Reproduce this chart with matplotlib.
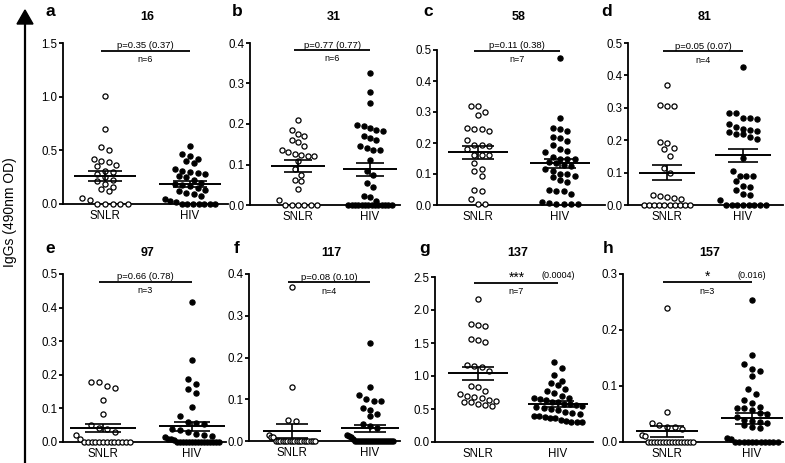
import numpy as np
import matplotlib
matplotlib.use("Agg")
import matplotlib.pyplot as plt
from matplotlib.patches import Polygon
from matplotlib.lines import Line2D

plt.rcParams['font.family'] = ['Liberation Sans', 'DejaVu Sans']

# panel info
letters = ['a', 'b', 'c', 'd', 'e', 'f', 'g', 'h']
titles = ['16', '31', '58', '81', '97', '117', '137', '157']
ymax = [1.5, 0.4, 0.5, 0.5, 0.5, 0.4, 2.5, 0.3]
ystep = [0.5, 0.1, 0.1, 0.1, 0.1, 0.1, 0.5, 0.1]
groups = ['SNLR', 'HIV']

snlr = [
    [1.01, 0.70, 0.53, 0.50, 0.42, 0.40, 0.39, 0.36, 0.35, 0.31, 0.30, 0.28, 0.25,
     0.22, 0.21, 0.19, 0.16, 0.14, 0.12, 0.06, 0.04, 0, 0, 0, 0, 0],
    [0.21, 0.185, 0.175, 0.17, 0.16, 0.155, 0.145, 0.135, 0.13, 0.125, 0.123, 0.12,
     0.12, 0.108, 0.09, 0.075, 0.062, 0.06, 0.04, 0.012, 0, 0, 0, 0, 0, 0],
    [0.32, 0.32, 0.30, 0.29, 0.25, 0.245, 0.24, 0.245, 0.21, 0.195, 0.195, 0.19, 0.18,
     0.16, 0.16, 0.16, 0.135, 0.115, 0.11, 0.095, 0.05, 0.045, 0.02, 0.003, 0.003],
    [0.37, 0.31, 0.305, 0.305, 0.195, 0.19, 0.175, 0.172, 0.15, 0.115, 0.10, 0.03,
     0.028, 0.022, 0.02, 0.025, 0, 0, 0, 0, 0, 0, 0, 0, 0, 0],
    [0.18, 0.178, 0.168, 0.16, 0.125, 0.082, 0.052, 0.042, 0.038, 0.03, 0.02, 0.008,
     0, 0, 0, 0, 0, 0, 0, 0, 0, 0, 0, 0, 0],
    [0.37, 0.13, 0.05, 0.048, 0.014, 0.01, 0.01] + [0] * 18,
    [2.16, 1.78, 1.76, 1.79, 1.56, 1.52, 1.55, 1.17, 1.15, 1.14, 1.08, 0.85, 0.83,
     0.77, 0.73, 0.70, 0.68, 0.66, 0.64, 0.60, 0.60, 0.58, 0.56, 0.55, 0.62],
    [0.24, 0.054, 0.034, 0.03, 0.026, 0.026, 0.024, 0.012, 0.01] + [0] * 16,
]
hiv = [
    [0.54, 0.47, 0.45, 0.42, 0.40, 0.38, 0.33, 0.31, 0.30, 0.29, 0.28, 0.26, 0.25,
     0.22, 0.20, 0.19, 0.18, 0.17, 0.15, 0.13, 0.12, 0.10, 0.09, 0.07, 0.05, 0.03,
     0.02, 0, 0, 0, 0, 0, 0, 0],
    [0.325, 0.28, 0.253, 0.198, 0.196, 0.19, 0.185, 0.182, 0.17, 0.165, 0.16, 0.145,
     0.14, 0.137, 0.135, 0.11, 0.085, 0.075, 0.055, 0.045, 0.022, 0.02, 0.01] + [0] * 14,
    [0.475, 0.28, 0.25, 0.245, 0.24, 0.22, 0.215, 0.205, 0.195, 0.18, 0.175, 0.17,
     0.155, 0.15, 0.15, 0.148, 0.14, 0.135, 0.13, 0.125, 0.115, 0.11, 0.10, 0.10,
     0.095, 0.09, 0.08, 0.075, 0.05, 0.045, 0.045, 0.035, 0.01, 0.005, 0.003, 0.002,
     0.003, 0.002],
    [0.425, 0.285, 0.283, 0.27, 0.27, 0.265, 0.25, 0.24, 0.235, 0.232, 0.228, 0.225,
     0.22, 0.22, 0.21, 0.205, 0.145, 0.105, 0.09, 0.088, 0.088, 0.075, 0.06, 0.055,
     0.045, 0.035, 0.03, 0.015] + [0] * 8,
    [0.418, 0.243, 0.188, 0.172, 0.157, 0.145, 0.105, 0.077, 0.06, 0.057, 0.055, 0.04,
     0.035, 0.03, 0.025, 0.02, 0.018, 0.015, 0.01, 0.008, 0.005] + [0] * 15,
    [0.235, 0.13, 0.11, 0.1, 0.095, 0.095, 0.078, 0.075, 0.065, 0.06, 0.04, 0.035,
     0.03, 0.015, 0.012, 0.01, 0.005] + [0] * 20,
    [1.21, 1.12, 1.02, 0.92, 0.90, 0.86, 0.81, 0.78, 0.74, 0.70, 0.67, 0.66, 0.65,
     0.63, 0.61, 0.60, 0.58, 0.57, 0.56, 0.55, 0.53, 0.52, 0.50, 0.48, 0.45, 0.44,
     0.42, 0.40, 0.39, 0.38, 0.36, 0.36, 0.33, 0.32, 0.31, 0.30, 0.30],
    [0.253, 0.155, 0.14, 0.13, 0.127, 0.118, 0.095, 0.085, 0.075, 0.07, 0.062, 0.06,
     0.06, 0.058, 0.052, 0.05, 0.045, 0.04, 0.038, 0.035, 0.034, 0.03, 0.027, 0.025,
     0.008, 0.005] + [0] * 11,
]

# mean and SEM
snlr_mean = [0.26, 0.096, 0.17, 0.10, 0.042, 0.024, 1.04, 0.019]
snlr_sem = [0.05, 0.014, 0.02, 0.024, 0.013, 0.016, 0.10, 0.01]
hiv_mean = [0.185, 0.088, 0.135, 0.154, 0.047, 0.03, 0.576, 0.042]
hiv_sem = [0.03, 0.016, 0.015, 0.02, 0.014, 0.009, 0.045, 0.009]

sig_y = [1.43, 0.382, 0.498, 0.474, 0.477, 0.38, 2.41, 0.285]
p_text = ['p=0.35 (0.37)', 'p=0.77 (0.77)', 'p=0.11 (0.38)', 'p=0.05 (0.07)',
          'p=0.66 (0.78)', 'p=0.08 (0.10)', '***', '*']
p_extra = ['', '', '', '', '', '', '(0.0004)', '(0.016)']
n_text = ['n=6', 'n=6', 'n=7', 'n=4', 'n=3', 'n=4', 'n=7', 'n=3']

# layout in pixels: spine x, right x, y of 0, y of top, x of SNLR, x of HIV
layout = [
    (63, 228, 204, 43, 105, 190),
    (250, 400, 205, 43, 298, 370),
    (437, 605, 205, 50, 478, 560),
    (628, 783, 205, 43, 667, 743),
    (63, 226, 442, 274, 103, 192),
    (249, 400, 441, 274, 292, 370),
    (435, 593, 442, 277, 478, 558),
    (623, 783, 442, 274, 667, 752),
]
letter_pos = [(50, 12), (237, 12), (428, 12), (607, 12),
              (50, 248), (237, 248), (425, 248), (608, 248)]
title_y = [17, 17, 17, 17, 253, 253, 253, 253]

W, H = 785, 463


def swarm(vals, center, dy, dx=0.09, maxw=0.6):
    v = np.sort(np.asarray(vals, dtype=float))[::-1]
    xs, ys = [], []
    i = 0
    while i < len(v):
        j = i
        while j < len(v) and v[i] - v[j] <= dy:
            j += 1
        row = v[i:j]
        k = len(row)
        step = dx if (k - 1) * dx <= maxw else maxw / (k - 1)
        off = (np.arange(k) - (k - 1) / 2) * step
        xs.extend(center + off)
        ys.extend(row)
        i = j
    return np.array(xs), np.array(ys)


fig = plt.figure(figsize=(W / 100, H / 100), dpi=100)

for i in range(8):
    sx, rx, y0, y1, px1, px2 = layout[i]
    unit = px2 - px1
    xl = 1 - (px1 - sx) / unit
    xr = 2 + (rx - px2) / unit
    ax = fig.add_axes([sx / W, 1 - y0 / H, (rx - sx) / W, (y0 - y1) / H])
    ax.set_xlim(xl, xr)
    ax.set_ylim(0, ymax[i])
    for s in ['top', 'right']:
        ax.spines[s].set_visible(False)
    for s in ['left', 'bottom']:
        ax.spines[s].set_linewidth(1.3)
    ticks = np.arange(0, ymax[i] + 1e-9, ystep[i])
    ax.set_yticks(ticks)
    ax.set_yticklabels(['%.1f' % t for t in ticks])
    ax.set_xticks([1, 2])
    ax.set_xticklabels(groups)
    ax.tick_params(axis='y', labelsize=8.3, length=3, width=1.3, pad=1)
    ax.tick_params(axis='x', labelsize=8.3, length=0, pad=4)

    dy = ymax[i] * 0.045
    xs, ys = swarm(snlr[i], 1, dy)
    ax.plot(xs, ys, 'o', ms=3.7, mfc='white', mec='black', mew=0.9,
            clip_on=False, zorder=3)
    xs, ys = swarm(hiv[i], 2, dy)
    ax.plot(xs, ys, 'o', ms=3.7, mfc='black', mec='black', mew=0.9,
            clip_on=False, zorder=3)

    for c, m, e in [(1, snlr_mean[i], snlr_sem[i]), (2, hiv_mean[i], hiv_sem[i])]:
        ax.hlines(m, c - 0.37, c + 0.37, color='black', lw=1.4, zorder=4)
        ax.hlines([m - e, m + e], c - 0.2, c + 0.2, color='black', lw=1.2, zorder=4)
        ax.vlines(c, m - e, m + e, color='black', lw=1.2, zorder=4)

    ax.hlines(sig_y[i], 0.95, 2.0, color='black', lw=1.3, clip_on=False)
    if p_extra[i]:
        ax.annotate(p_text[i], (1.48, sig_y[i]), xytext=(0, -1), textcoords='offset points',
                    ha='center', va='bottom', fontsize=10, annotation_clip=False)
        ax.annotate(p_extra[i], (2.0, sig_y[i]), xytext=(0, 2), textcoords='offset points',
                    ha='center', va='bottom', fontsize=6.5, annotation_clip=False)
    else:
        ax.annotate(p_text[i], (1.475, sig_y[i]), xytext=(0, 0.5), textcoords='offset points',
                    ha='center', va='bottom', fontsize=6.8, annotation_clip=False)
    ax.annotate(n_text[i], (1.475, sig_y[i]), xytext=(0, -3), textcoords='offset points',
                ha='center', va='top', fontsize=6.5, annotation_clip=False)

    tx = ax.transData.transform((1.5, 0))[0]
    fig.text(tx / W, 1 - title_y[i] / H, titles[i], fontsize=9, fontweight='bold',
             ha='center', va='center')
    lx, ly = letter_pos[i]
    fig.text(lx / W, 1 - ly / H, letters[i], fontsize=12.5, fontweight='bold',
             ha='center', va='center')

# big axis arrow on the left
fig.add_artist(Line2D([25 / W, 25 / W], [0, 1 - 22 / H], transform=fig.transFigure,
                      color='black', lw=1.6))
fig.add_artist(Polygon([(17 / W, 1 - 24 / H), (33 / W, 1 - 24 / H), (25 / W, 1 - 10 / H)],
                       closed=True, transform=fig.transFigure, color='black'))
fig.text(10 / W, 1 - 212 / H, 'IgGs (490nm OD)', rotation=90, fontsize=10,
         ha='center', va='center')

fig.savefig('out.png', dpi=100)
